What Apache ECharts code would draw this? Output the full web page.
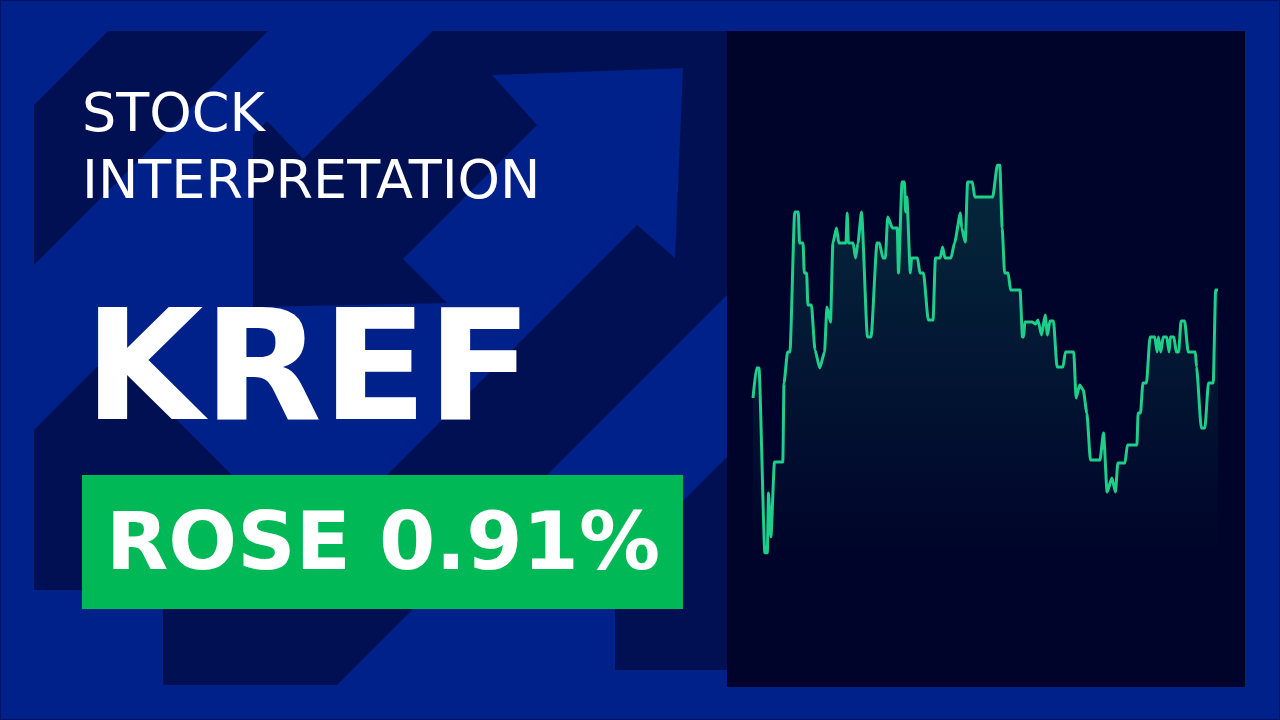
<!DOCTYPE html>
<html>
<head>
<meta charset="utf-8">
<script src="https://cdn.jsdelivr.net/npm/echarts@6/dist/echarts.min.js"></script>
<style>
html,body{margin:0;padding:0;background:#00208a;}
#c{width:1280px;height:720px;}
</style>
</head>
<body>
<div id="c"></div>
<script>
// Intraday minutes since open and the price line (index units)
const minutes = [0,3,5,10,12,13,15,18,25,26,29,31,35,38,39,42,43,45,46,49,52,56,60,62,65,67,70,72,78,79,80,84,86,88,91,96,99,104,106,109,111,113,117,121,122,125,127,128,129,132,133,138,140,143,147,151,153,157,159,161,166,169,174,175,178,180,184,186,201,205,207,209,211,214,216,224,226,227,228,234,237,239,242,245,247,249,252,255,260,262,269,271,274,277,280,283,291,294,297,301,304,306,312,314,322,323,325,327,330,333,337,339,340,342,344,347,349,350,353,355,357,359,362,365,371,372,376,379,382,386,388,390];
const prices = [202,232,232,47,47,107,63,138,138,217,248,248,388,388,357,357,327,327,295,295,250,232,248,293,278,357,372,357,357,387,357,357,342,357,388,263,263,357,357,342,342,383,372,372,327,418,418,388,403,327,342,342,327,327,280,280,342,342,353,342,342,357,387,372,358,418,418,403,403,435,435,372,327,327,310,310,263,263,278,278,276,280,265,285,265,279,279,233,233,248,248,202,215,210,187,140,140,167,108,122,108,137,137,155,155,187,187,217,217,263,263,248,263,248,263,263,248,263,263,248,248,279,279,248,248,233,172,172,217,217,310,310];

const titleLines = ['STOCK', 'INTERPRETATION'];
const ticker = 'KREF';
const changeText = 'ROSE 0.91%';

const seriesData = minutes.map((m, i) => [m, prices[i]]);

const LIGHT = '#00208a';
const DARK = '#001052';
const FONT = '"DejaVu Sans", Verdana, sans-serif';

const chart = echarts.init(document.getElementById('c'), null, {renderer: 'canvas'});

const poly = (pts, fill, z) => ({type: 'polygon', z: z, silent: true, shape: {points: pts}, style: {fill: fill}});

chart.setOption({
  backgroundColor: LIGHT,
  animation: false,
  graphic: [
    {type: 'rect', z: 0, silent: true, shape: {x: 0.5, y: 0.5, width: 1279, height: 719}, style: {fill: LIGHT, stroke: '#001468', lineWidth: 1}},
    // dark decorative arrow shapes
    poly([[108,31],[268,31],[34,265],[34,105]], DARK, 1),
    poly([[433,31],[727,31],[727,295],[337,685],[163,685],[163,600],[262,600],[637,225],[537,125],[403,259],[447,303],[253,307],[253,135],[267,121],[303,159]], DARK, 1),
    poly([[34,430],[97,367],[124,367],[240,483],[240,590],[34,590]], DARK, 1),
    poly([[727,457],[615,569],[615,670],[727,670]], DARK, 1),
    // light arrowhead over dark
    poly([[492,75],[683,68],[675,258],[637,225],[537,125]], LIGHT, 2),
    // chart panel
    {type: 'rect', z: 3, silent: true, shape: {x: 727, y: 31, width: 518, height: 656}, style: {fill: '#00042a'}},
    // texts
    {type: 'text', z: 4, silent: true, x: 82, y: 117, style: {text: titleLines[0], fill: '#ffffff', fontSize: 54, fontFamily: FONT, fontWeight: 'normal', align: 'left', verticalAlign: 'middle'}},
    {type: 'text', z: 4, silent: true, x: 82, y: 184, style: {text: titleLines[1], fill: '#ffffff', fontSize: 54, fontFamily: FONT, fontWeight: 'normal', align: 'left', verticalAlign: 'middle'}},
    {type: 'text', z: 4, silent: true, x: 84, y: 379, style: {text: ticker, fill: '#ffffff', fontSize: 154, fontFamily: FONT, fontWeight: 'bold', align: 'left', verticalAlign: 'middle'}},
    {type: 'rect', z: 4, silent: true, shape: {x: 82, y: 475, width: 601, height: 134}, style: {fill: '#00b956'}},
    {type: 'text', z: 5, silent: true, x: 383, y: 548, style: {text: changeText, fill: '#ffffff', fontSize: 81, fontFamily: FONT, fontWeight: 'bold', align: 'center', verticalAlign: 'middle'}}
  ],
  grid: {left: 753, right: 62, top: 165, bottom: 167, containLabel: false},
  xAxis: {type: 'value', min: 0, max: 390, show: false, splitLine: {show: false}},
  yAxis: {type: 'value', min: 47, max: 435, show: false, splitLine: {show: false}},
  series: [{
    type: 'line',
    z: 10,
    data: seriesData,
    showSymbol: false,
    symbol: 'none',
    smooth: 0.2,
    smoothMonotone: 'x',
    lineStyle: {color: '#1ecf8c', width: 3},
    areaStyle: {
      color: new echarts.graphic.LinearGradient(0, 0, 0, 1, [
        {offset: 0, color: 'rgba(30,207,140,0.26)'},
        {offset: 1, color: 'rgba(30,207,140,0.0)'}
      ])
    }
  }]
});
</script>
</body>
</html>
